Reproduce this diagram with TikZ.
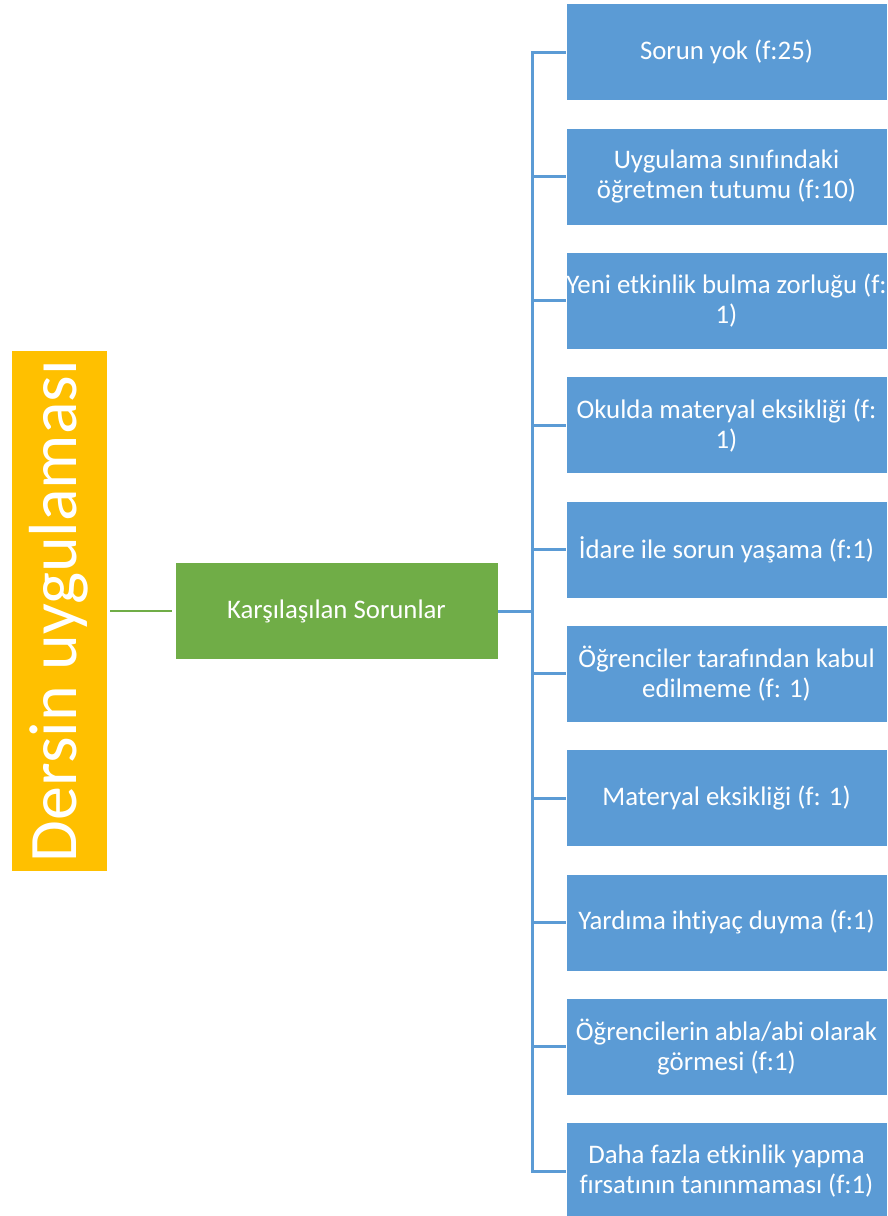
\documentclass[tikz,border=0pt]{standalone}
\usepackage{fontspec}
\setmainfont{Carlito}[Ligatures={NoCommon}]
\definecolor{cblue}{HTML}{5B9BD5}
\definecolor{cgreen}{HTML}{70AD47}
\definecolor{cyellow}{HTML}{FFC000}
\tikzset{
  leaf/.style={fill=cblue, draw=white, line width=0.8pt, text=white, minimum width=321pt, minimum height=97pt, inner sep=0pt, align=center, font=\fontsize{26.8}{30}\selectfont},
  mid/.style={fill=cgreen, draw=white, line width=0.8pt, text=white, minimum width=323pt, minimum height=97pt, inner sep=0pt, align=center, font=\fontsize{26.8}{30}\selectfont},
  rootbox/.style={fill=cyellow, draw=white, line width=0.8pt, text=white, rotate=90, minimum width=521pt, minimum height=96pt, inner sep=0pt, font=\fontsize{68}{80}\selectfont},
  bl/.style={draw=cblue, line width=3pt},
  gl/.style={draw=cgreen, line width=2.4pt, shorten <=3pt, shorten >=3pt}
}
\begin{document}
\begin{tikzpicture}[x=1pt,y=-1pt]
\useasboundingbox (0,0) rectangle (887,1216);
\fill[white] (0,0) rectangle (887,1216);
\node[rootbox] (root) at (59,611) {Dersin uygulaması};
\node[mid] (grn) at (336.5,611) {Karşılaşılan Sorunlar};
\node[leaf] (b1) at (726.5,52.3) {Sorun yok (f:25)};
\node[leaf] (b2) at (726.5,176.6) {Uygulama sınıfındaki\\öğretmen tutumu (f:10)};
\node[leaf] (b3) at (726.5,300.9) {Yeni etkinlik bulma zorluğu (f:\\1)};
\node[leaf] (b4) at (726.5,425.2) {Okulda materyal eksikliği (f:\\1)};
\node[leaf] (b5) at (726.5,549.5) {İdare ile sorun yaşama (f:1)};
\node[leaf] (b6) at (726.5,673.8) {Öğrenciler tarafından kabul\\edilmeme (f: 1)};
\node[leaf] (b7) at (726.5,798.1) {Materyal eksikliği (f: 1)};
\node[leaf] (b8) at (726.5,922.4) {Yardıma ihtiyaç duyma (f:1)};
\node[leaf] (b9) at (726.5,1046.7) {Öğrencilerin abla/abi olarak\\görmesi (f:1)};
\node[leaf] (b10) at (726.5,1171) {Daha fazla etkinlik yapma\\fırsatının tanınmaması (f:1)};
\coordinate (trunk) at (532,611);
\draw[gl] (root.south) -- (grn.west);
\draw[bl] (grn.east) -- (trunk);
\draw[bl] (b1.west) -- (b1.west -| trunk) -- (b10.west -| trunk) -- (b10.west);
\foreach \i in {2,...,9} {\draw[bl] (b\i.west) -- (b\i.west -| trunk);}
\end{tikzpicture}
\end{document}
